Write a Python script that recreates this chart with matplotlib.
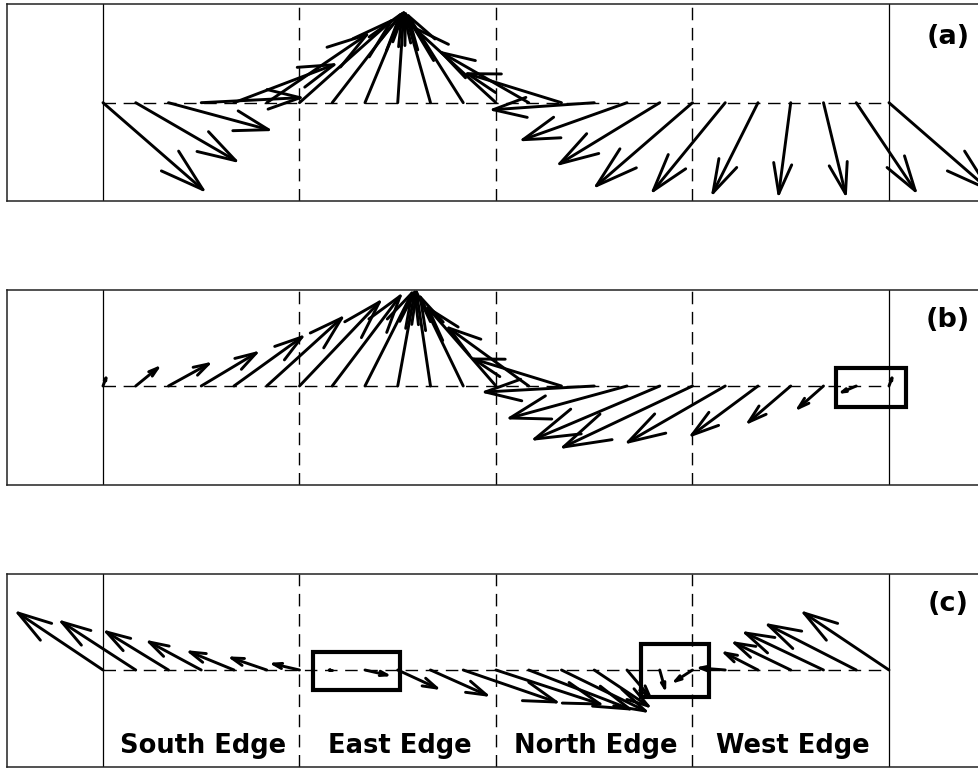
import numpy as np
import matplotlib.pyplot as plt
from matplotlib.collections import LineCollection
from matplotlib.patches import Rectangle

# boundary of the square, walked South -> East -> North -> West, 6 points per edge
edge_names = ["South Edge", "East Edge", "North Edge", "West Edge"]
n_per_edge = 6
s = np.arange(4 * n_per_edge + 1) / n_per_edge   # last point closes the loop

# boundary vectors (u east, v north)
u_a = [100, 100, 100, 99, 100, 100, 92, 68, 37, 6, -25, -55, -82, -87, -94, -101,
       -104, -100, -96, -72, -45, -12, 22, 59, 100]
v_a = [-87, -58, -27, 5, 38, 68, 82, 88, 89, 90, 89, 87, 75, 50, 29, -7,
       -37, -61, -83, -88, -90, -91, -91, -88, -87]
u_b = [3, 22, 40, 55, 68, 75, 80, 68, 47, 17, -14, -43, -68, -80, -88, -109,
       -117, -125, -129, -97, -66, -42, -25, -14, 3]
v_b = [8, 18, 22, 33, 49, 68, 84, 90, 93, 94, 94, 89, 78, 58, 27, -6,
       -32, -53, -61, -56, -49, -36, -22, -6, 8]
u_c = [-85, -74, -62, -52, -44, -35, -26, -3, 22, 39, 56, 93, 104, 101, 84, 54,
       23, 5, -17, -25, -33, -56, -78, -88, -85]
v_c = [57, 48, 38, 28, 18, 12, 6, 0, -5, -18, -25, -32, -34, -39, -41, -36,
       -27, -18, -11, 2, 17, 27, 37, 45, 57]

panel_labels = ["(a)", "(b)", "(c)"]
# highlight boxes (x0, y0, x1, y1) per panel
boxes = [[], [(3.73, -0.105, 4.087, 0.09)],
         [(1.07, -0.102, 1.511, 0.09), (2.74, -0.136, 3.085, 0.13)]]

vec_scale = 196.5   # vector units per edge length
px = 196.5          # pixels per edge length
W, H = 979, 769

# (top, baseline, bottom) of each panel in pixels
rows = [(4.2, 102.7, 200.5), (290, 386, 485), (574, 670, 767)]


def quiver_matlab(ax, x, u, v):
    # arrows with open heads like matlab quiver (alpha = beta = 0.33)
    u = np.asarray(u) / vec_scale
    v = np.asarray(v) / vec_scale
    a, b = 0.33, 0.3
    segs = []
    for xi, ui, vi in zip(x, u, v):
        tx, ty = xi + ui, vi
        segs.append([(xi, 0), (tx, ty)])
        segs.append([(tx - a * (ui + b * vi), ty - a * (vi - b * ui)),
                     (tx, ty),
                     (tx - a * (ui - b * vi), ty - a * (vi + b * ui))])
    ax.add_collection(LineCollection(segs, colors='k', linewidths=2.1,
                                     capstyle='round', joinstyle='round'))


fig = plt.figure(figsize=(W / 100, H / 100), dpi=100)
dash = (0, (9, 5.5))
left_px = 6.7
xlo, xhi = -0.49, 4.49

for i, (u, v) in enumerate([(u_a, v_a), (u_b, v_b), (u_c, v_c)]):
    top, base, bot = rows[i]
    ax = fig.add_axes([left_px / W, 1 - bot / H, (xhi - xlo) * px / W, (bot - top) / H])
    ax.set_xlim(xlo, xhi)
    ax.set_ylim((base - bot) / px, (base - top) / px)
    ax.set_xticks([])
    ax.set_yticks([])
    for sp in ax.spines.values():
        sp.set_linewidth(1.1)
        sp.set_color('#222222')

    ax.axvline(0, color='k', lw=0.9)
    ax.axvline(4, color='k', lw=0.9)
    for xe in [1, 2, 3]:
        ax.axvline(xe, color='k', lw=1.0, linestyle=dash)
    ax.plot([0, 4], [0, 0], color='k', lw=1.0, linestyle=dash)

    quiver_matlab(ax, s, u, v)

    for (x0, y0, x1, y1) in boxes[i]:
        ax.add_patch(Rectangle((x0, y0), x1 - x0, y1 - y0, fill=False,
                               edgecolor='k', linewidth=3.0))

    ax.text(4.30, 0.335, panel_labels[i], ha='center', va='center',
            fontsize=19.5, fontweight='bold', family='DejaVu Sans')

    if i == 2:
        for k, name in enumerate(edge_names):
            ax.text(k + 0.51, -0.422, name, ha='center', va='baseline',
                    fontsize=18.5, fontweight='bold', family='DejaVu Sans')

fig.savefig('out.png', dpi=100)
